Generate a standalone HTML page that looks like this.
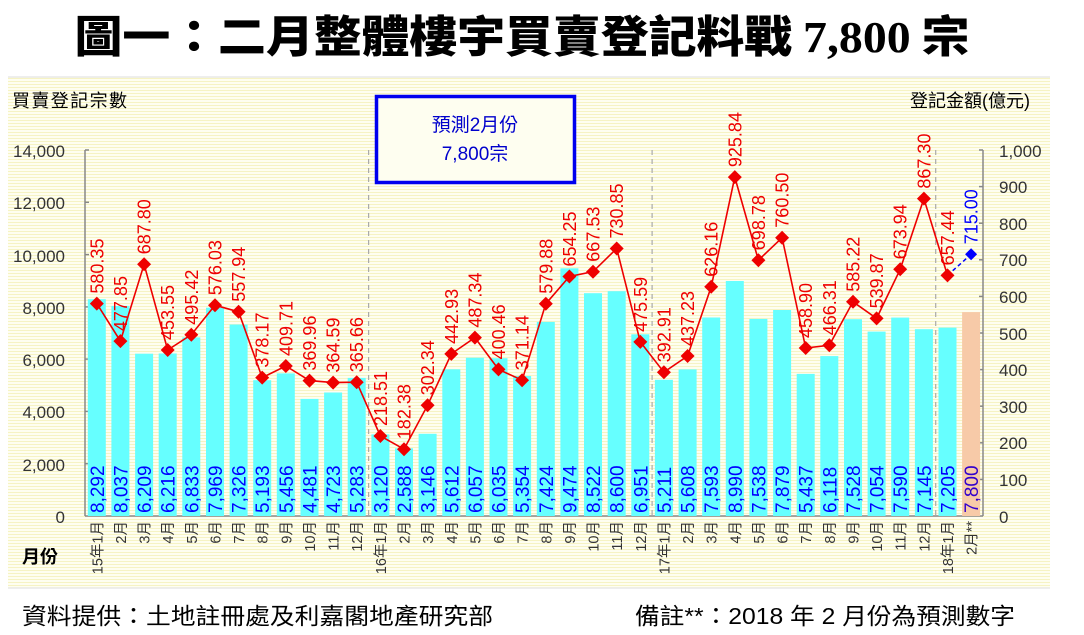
<!DOCTYPE html>
<html><head><meta charset="utf-8"><style>
html,body{margin:0;padding:0;background:#fff;}
svg{display:block;}
</style></head><body>
<svg width="1084" height="635" viewBox="0 0 1084 635" xmlns="http://www.w3.org/2000/svg" font-family="'Liberation Sans','Noto Sans CJK TC',sans-serif">
<defs>
<pattern id="st" width="4" height="3" patternUnits="userSpaceOnUse">
<rect width="4" height="3" fill="#fefef0"/><rect width="4" height="1" fill="#f6f3c4"/>
</pattern>
</defs>
<text x="522" y="52" text-anchor="middle" font-size="44" font-weight="900" font-family="'Noto Sans CJK TC','WenQuanYi Zen Hei',sans-serif" textLength="895" lengthAdjust="spacingAndGlyphs">圖一：二月整體樓宇買賣登記料戰 <tspan font-family="'Liberation Serif',serif" font-weight="bold">7,800</tspan> 宗</text>
<rect x="8" y="77" width="1042" height="511" fill="url(#st)"/>
<line x1="8" y1="77" x2="1050" y2="77" stroke="#ddd"/>
<line x1="8" y1="588" x2="1050" y2="588" stroke="#ddd"/>
<text x="12" y="107" font-size="18" fill="#000" textLength="115">買賣登記宗數</text>
<text x="1030" y="107" font-size="18" fill="#000" text-anchor="end">登記金額(億元)</text>
<text x="22" y="563" font-size="18" font-weight="bold" fill="#000">月份</text>
<g stroke="#888" stroke-width="1.5">
<line x1="85" y1="150" x2="85" y2="516"/>
<line x1="85" y1="516" x2="983" y2="516"/>
<line x1="983" y1="150" x2="983" y2="516"/>
<line x1="85" y1="150" x2="89" y2="150"/><line x1="85" y1="202.3" x2="89" y2="202.3"/><line x1="85" y1="254.6" x2="89" y2="254.6"/><line x1="85" y1="306.9" x2="89" y2="306.9"/><line x1="85" y1="359.1" x2="89" y2="359.1"/><line x1="85" y1="411.4" x2="89" y2="411.4"/><line x1="85" y1="463.7" x2="89" y2="463.7"/>
<line x1="979" y1="150" x2="983" y2="150"/><line x1="979" y1="186.6" x2="983" y2="186.6"/><line x1="979" y1="223.2" x2="983" y2="223.2"/><line x1="979" y1="259.8" x2="983" y2="259.8"/><line x1="979" y1="296.4" x2="983" y2="296.4"/><line x1="979" y1="333" x2="983" y2="333"/><line x1="979" y1="369.6" x2="983" y2="369.6"/><line x1="979" y1="406.2" x2="983" y2="406.2"/><line x1="979" y1="442.8" x2="983" y2="442.8"/><line x1="979" y1="479.4" x2="983" y2="479.4"/>
</g>
<g font-size="17" fill="#333" text-anchor="end">
<text x="65" y="157">14,000</text><text x="65" y="209">12,000</text><text x="65" y="262">10,000</text><text x="65" y="314">8,000</text><text x="65" y="366">6,000</text><text x="65" y="418">4,000</text><text x="65" y="471">2,000</text><text x="65" y="523">0</text>
</g>
<g font-size="17" fill="#333">
<text x="999" y="157">1,000</text><text x="999" y="193">900</text><text x="999" y="230">800</text><text x="999" y="266">700</text><text x="999" y="303">600</text><text x="999" y="340">500</text><text x="999" y="376">400</text><text x="999" y="413">300</text><text x="999" y="449">200</text><text x="999" y="486">100</text><text x="999" y="523">0</text>
</g>
<g fill="#66ffff">
<rect x="87.8" y="299.2" width="18" height="216.8"/>
<rect x="111.4" y="305.9" width="18" height="210.1"/>
<rect x="135.1" y="353.7" width="18" height="162.3"/>
<rect x="158.7" y="353.5" width="18" height="162.5"/>
<rect x="182.3" y="337.4" width="18" height="178.6"/>
<rect x="206" y="307.7" width="18" height="208.3"/>
<rect x="229.6" y="324.5" width="18" height="191.5"/>
<rect x="253.2" y="380.2" width="18" height="135.8"/>
<rect x="276.8" y="373.4" width="18" height="142.6"/>
<rect x="300.5" y="398.9" width="18" height="117.1"/>
<rect x="324.1" y="392.5" width="18" height="123.5"/>
<rect x="347.7" y="377.9" width="18" height="138.1"/>
<rect x="371.4" y="434.4" width="18" height="81.6"/>
<rect x="395" y="448.3" width="18" height="67.7"/>
<rect x="418.6" y="433.8" width="18" height="82.2"/>
<rect x="442.3" y="369.3" width="18" height="146.7"/>
<rect x="465.9" y="357.7" width="18" height="158.3"/>
<rect x="489.5" y="358.2" width="18" height="157.8"/>
<rect x="513.1" y="376" width="18" height="140"/>
<rect x="536.8" y="321.9" width="18" height="194.1"/>
<rect x="560.4" y="268.3" width="18" height="247.7"/>
<rect x="584" y="293.2" width="18" height="222.8"/>
<rect x="607.7" y="291.2" width="18" height="224.8"/>
<rect x="631.3" y="334.3" width="18" height="181.7"/>
<rect x="654.9" y="379.8" width="18" height="136.2"/>
<rect x="678.6" y="369.4" width="18" height="146.6"/>
<rect x="702.2" y="317.5" width="18" height="198.5"/>
<rect x="725.8" y="281" width="18" height="235"/>
<rect x="749.4" y="318.9" width="18" height="197.1"/>
<rect x="773.1" y="310" width="18" height="206"/>
<rect x="796.7" y="373.9" width="18" height="142.1"/>
<rect x="820.3" y="356.1" width="18" height="159.9"/>
<rect x="844" y="319.2" width="18" height="196.8"/>
<rect x="867.6" y="331.6" width="18" height="184.4"/>
<rect x="891.2" y="317.6" width="18" height="198.4"/>
<rect x="914.9" y="329.2" width="18" height="186.8"/>
<rect x="938.5" y="327.6" width="18" height="188.4"/>
</g>
<rect x="962.1" y="312.1" width="18" height="203.9" fill="#f7caa8"/>
<g stroke="#aaa" stroke-width="1.2" stroke-dasharray="5,4">
<line x1="368.6" y1="150" x2="368.6" y2="516"/>
<line x1="652.1" y1="150" x2="652.1" y2="516"/>
<line x1="935.7" y1="150" x2="935.7" y2="516"/>
</g>
<g font-size="19" fill="#0000ff" text-anchor="start">
<text transform="translate(103.8,513) rotate(-90)">8,292</text>
<text transform="translate(127.4,513) rotate(-90)">8,037</text>
<text transform="translate(151.1,513) rotate(-90)">6,209</text>
<text transform="translate(174.7,513) rotate(-90)">6,216</text>
<text transform="translate(198.3,513) rotate(-90)">6,833</text>
<text transform="translate(222,513) rotate(-90)">7,969</text>
<text transform="translate(245.6,513) rotate(-90)">7,326</text>
<text transform="translate(269.2,513) rotate(-90)">5,193</text>
<text transform="translate(292.8,513) rotate(-90)">5,456</text>
<text transform="translate(316.5,513) rotate(-90)">4,481</text>
<text transform="translate(340.1,513) rotate(-90)">4,723</text>
<text transform="translate(363.7,513) rotate(-90)">5,283</text>
<text transform="translate(387.4,513) rotate(-90)">3,120</text>
<text transform="translate(411,513) rotate(-90)">2,588</text>
<text transform="translate(434.6,513) rotate(-90)">3,146</text>
<text transform="translate(458.3,513) rotate(-90)">5,612</text>
<text transform="translate(481.9,513) rotate(-90)">6,057</text>
<text transform="translate(505.5,513) rotate(-90)">6,035</text>
<text transform="translate(529.1,513) rotate(-90)">5,354</text>
<text transform="translate(552.8,513) rotate(-90)">7,424</text>
<text transform="translate(576.4,513) rotate(-90)">9,474</text>
<text transform="translate(600,513) rotate(-90)">8,522</text>
<text transform="translate(623.7,513) rotate(-90)">8,600</text>
<text transform="translate(647.3,513) rotate(-90)">6,951</text>
<text transform="translate(670.9,513) rotate(-90)">5,211</text>
<text transform="translate(694.6,513) rotate(-90)">5,608</text>
<text transform="translate(718.2,513) rotate(-90)">7,593</text>
<text transform="translate(741.8,513) rotate(-90)">8,990</text>
<text transform="translate(765.4,513) rotate(-90)">7,538</text>
<text transform="translate(789.1,513) rotate(-90)">7,879</text>
<text transform="translate(812.7,513) rotate(-90)">5,437</text>
<text transform="translate(836.3,513) rotate(-90)">6,118</text>
<text transform="translate(860,513) rotate(-90)">7,528</text>
<text transform="translate(883.6,513) rotate(-90)">7,054</text>
<text transform="translate(907.2,513) rotate(-90)">7,590</text>
<text transform="translate(930.9,513) rotate(-90)">7,145</text>
<text transform="translate(954.5,513) rotate(-90)">7,205</text>
<text transform="translate(978.1,513) rotate(-90)" fill="#3300cc">7,800</text>
</g>
<polyline fill="none" stroke="#ee0000" stroke-width="1.6" points="96.8,303.6 120.4,341.1 144.1,264.3 167.7,350 191.3,334.7 215,305.2 238.6,311.8 262.2,377.6 285.8,366 309.5,380.6 333.1,382.6 356.7,382.2 380.4,436 404,449.2 427.6,405.3 451.3,353.9 474.9,337.6 498.5,369.4 522.1,380.2 545.8,303.8 569.4,276.5 593,271.7 616.7,248.5 640.3,341.9 663.9,372.2 687.6,356 711.2,286.8 734.8,177.1 758.4,260.2 782.1,237.7 805.7,348 829.3,345.3 853,301.8 876.6,318.4 900.2,269.3 923.9,198.6 947.5,275.4"/>
<line x1="947.5" y1="275.4" x2="971.1" y2="254.3" stroke="#0000ff" stroke-width="1.5" stroke-dasharray="4,3"/>
<g fill="#ee0000">
<path d="M96.8,296.6l7,7-7,7-7-7z"/><path d="M120.4,334.1l7,7-7,7-7-7z"/><path d="M144.1,257.3l7,7-7,7-7-7z"/><path d="M167.7,343l7,7-7,7-7-7z"/><path d="M191.3,327.7l7,7-7,7-7-7z"/><path d="M215,298.2l7,7-7,7-7-7z"/><path d="M238.6,304.8l7,7-7,7-7-7z"/><path d="M262.2,370.6l7,7-7,7-7-7z"/><path d="M285.8,359l7,7-7,7-7-7z"/><path d="M309.5,373.6l7,7-7,7-7-7z"/><path d="M333.1,375.6l7,7-7,7-7-7z"/><path d="M356.7,375.2l7,7-7,7-7-7z"/><path d="M380.4,429l7,7-7,7-7-7z"/><path d="M404,442.2l7,7-7,7-7-7z"/><path d="M427.6,398.3l7,7-7,7-7-7z"/><path d="M451.3,346.9l7,7-7,7-7-7z"/><path d="M474.9,330.6l7,7-7,7-7-7z"/><path d="M498.5,362.4l7,7-7,7-7-7z"/><path d="M522.1,373.2l7,7-7,7-7-7z"/><path d="M545.8,296.8l7,7-7,7-7-7z"/><path d="M569.4,269.5l7,7-7,7-7-7z"/><path d="M593,264.7l7,7-7,7-7-7z"/><path d="M616.7,241.5l7,7-7,7-7-7z"/><path d="M640.3,334.9l7,7-7,7-7-7z"/><path d="M663.9,365.2l7,7-7,7-7-7z"/><path d="M687.6,349l7,7-7,7-7-7z"/><path d="M711.2,279.8l7,7-7,7-7-7z"/><path d="M734.8,170.1l7,7-7,7-7-7z"/><path d="M758.4,253.2l7,7-7,7-7-7z"/><path d="M782.1,230.7l7,7-7,7-7-7z"/><path d="M805.7,341l7,7-7,7-7-7z"/><path d="M829.3,338.3l7,7-7,7-7-7z"/><path d="M853,294.8l7,7-7,7-7-7z"/><path d="M876.6,311.4l7,7-7,7-7-7z"/><path d="M900.2,262.3l7,7-7,7-7-7z"/><path d="M923.9,191.6l7,7-7,7-7-7z"/><path d="M947.5,268.4l7,7-7,7-7-7z"/>
</g>
<path d="M971.1,248.3l6,6-6,6-6-6z" fill="#0000ff"/>
<g font-size="18" fill="#ee0000">
<text transform="translate(103.3,293.6) rotate(-90)">580.35</text>
<text transform="translate(126.9,331.1) rotate(-90)">477.85</text>
<text transform="translate(150.6,254.3) rotate(-90)">687.80</text>
<text transform="translate(174.2,340) rotate(-90)">453.55</text>
<text transform="translate(197.8,324.7) rotate(-90)">495.42</text>
<text transform="translate(221.5,295.2) rotate(-90)">576.03</text>
<text transform="translate(245.1,301.8) rotate(-90)">557.94</text>
<text transform="translate(268.7,367.6) rotate(-90)">378.17</text>
<text transform="translate(292.3,356) rotate(-90)">409.71</text>
<text transform="translate(316,370.6) rotate(-90)">369.96</text>
<text transform="translate(339.6,372.6) rotate(-90)">364.59</text>
<text transform="translate(363.2,372.2) rotate(-90)">365.66</text>
<text transform="translate(386.9,426) rotate(-90)">218.51</text>
<text transform="translate(410.5,439.2) rotate(-90)">182.38</text>
<text transform="translate(434.1,395.3) rotate(-90)">302.34</text>
<text transform="translate(457.8,343.9) rotate(-90)">442.93</text>
<text transform="translate(481.4,327.6) rotate(-90)">487.34</text>
<text transform="translate(505,359.4) rotate(-90)">400.46</text>
<text transform="translate(528.6,370.2) rotate(-90)">371.14</text>
<text transform="translate(552.3,293.8) rotate(-90)">579.88</text>
<text transform="translate(575.9,266.5) rotate(-90)">654.25</text>
<text transform="translate(599.5,261.7) rotate(-90)">667.53</text>
<text transform="translate(623.2,238.5) rotate(-90)">730.85</text>
<text transform="translate(646.8,331.9) rotate(-90)">475.59</text>
<text transform="translate(670.4,362.2) rotate(-90)">392.91</text>
<text transform="translate(694.1,346) rotate(-90)">437.23</text>
<text transform="translate(717.7,276.8) rotate(-90)">626.16</text>
<text transform="translate(741.3,167.1) rotate(-90)">925.84</text>
<text transform="translate(764.9,250.2) rotate(-90)">698.78</text>
<text transform="translate(788.6,227.7) rotate(-90)">760.50</text>
<text transform="translate(812.2,338) rotate(-90)">458.90</text>
<text transform="translate(835.8,335.3) rotate(-90)">466.31</text>
<text transform="translate(859.5,291.8) rotate(-90)">585.22</text>
<text transform="translate(883.1,308.4) rotate(-90)">539.87</text>
<text transform="translate(906.7,259.3) rotate(-90)">673.94</text>
<text transform="translate(930.4,188.6) rotate(-90)">867.30</text>
<text transform="translate(954,265.4) rotate(-90)">657.44</text>
<text transform="translate(977.6,244.3) rotate(-90)" fill="#0000ff">715.00</text>
</g>
<g font-size="14.5" fill="#333" text-anchor="end">
<text transform="translate(102.3,521) rotate(-90)">15年1月</text>
<text transform="translate(125.9,521) rotate(-90)">2月</text>
<text transform="translate(149.6,521) rotate(-90)">3月</text>
<text transform="translate(173.2,521) rotate(-90)">4月</text>
<text transform="translate(196.8,521) rotate(-90)">5月</text>
<text transform="translate(220.5,521) rotate(-90)">6月</text>
<text transform="translate(244.1,521) rotate(-90)">7月</text>
<text transform="translate(267.7,521) rotate(-90)">8月</text>
<text transform="translate(291.3,521) rotate(-90)">9月</text>
<text transform="translate(315,521) rotate(-90)">10月</text>
<text transform="translate(338.6,521) rotate(-90)">11月</text>
<text transform="translate(362.2,521) rotate(-90)">12月</text>
<text transform="translate(385.9,521) rotate(-90)">16年1月</text>
<text transform="translate(409.5,521) rotate(-90)">2月</text>
<text transform="translate(433.1,521) rotate(-90)">3月</text>
<text transform="translate(456.8,521) rotate(-90)">4月</text>
<text transform="translate(480.4,521) rotate(-90)">5月</text>
<text transform="translate(504,521) rotate(-90)">6月</text>
<text transform="translate(527.6,521) rotate(-90)">7月</text>
<text transform="translate(551.3,521) rotate(-90)">8月</text>
<text transform="translate(574.9,521) rotate(-90)">9月</text>
<text transform="translate(598.5,521) rotate(-90)">10月</text>
<text transform="translate(622.2,521) rotate(-90)">11月</text>
<text transform="translate(645.8,521) rotate(-90)">12月</text>
<text transform="translate(669.4,521) rotate(-90)">17年1月</text>
<text transform="translate(693.1,521) rotate(-90)">2月</text>
<text transform="translate(716.7,521) rotate(-90)">3月</text>
<text transform="translate(740.3,521) rotate(-90)">4月</text>
<text transform="translate(763.9,521) rotate(-90)">5月</text>
<text transform="translate(787.6,521) rotate(-90)">6月</text>
<text transform="translate(811.2,521) rotate(-90)">7月</text>
<text transform="translate(834.8,521) rotate(-90)">8月</text>
<text transform="translate(858.5,521) rotate(-90)">9月</text>
<text transform="translate(882.1,521) rotate(-90)">10月</text>
<text transform="translate(905.7,521) rotate(-90)">11月</text>
<text transform="translate(929.4,521) rotate(-90)">12月</text>
<text transform="translate(953,521) rotate(-90)">18年1月</text>
<text transform="translate(976.6,521) rotate(-90)">2月**</text>
</g>
<rect x="376.5" y="96.5" width="198" height="86" fill="#fefef0" stroke="#0000ee" stroke-width="3.5"/>
<text x="475" y="131" font-size="19" fill="#0000cc" text-anchor="middle">預測2月份</text>
<text x="475" y="160" font-size="19" fill="#0000cc" text-anchor="middle">7,800宗</text>
<text x="22" y="624" font-size="23" fill="#000" textLength="471" lengthAdjust="spacingAndGlyphs">資料提供：土地註冊處及利嘉閣地產研究部</text>
<text x="635" y="624" font-size="23" fill="#000" textLength="380" lengthAdjust="spacingAndGlyphs">備註**：2018 年 2 月份為預測數字</text>
</svg>
</body></html>
